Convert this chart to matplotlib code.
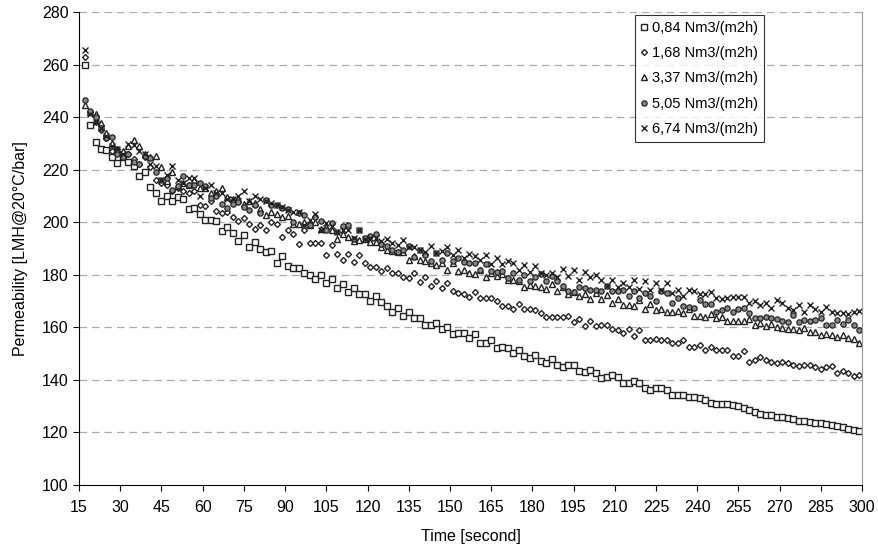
import numpy as np
import matplotlib
matplotlib.use("Agg")
import matplotlib.pyplot as plt

plt.rcParams['font.family'] = ['Liberation Sans', 'DejaVu Sans']

# time grid, one reading every 2 seconds
t = list(range(17, 300, 2))

flow_labels = ["0,84 Nm3/(m2h)", "1,68 Nm3/(m2h)", "3,37 Nm3/(m2h)",
               "5,05 Nm3/(m2h)", "6,74 Nm3/(m2h)"]

perm_084 = [260, 237, 230.5, 228, 227.5, 225, 222.5, 225, 223, 221.5,
            217.5, 219, 213.5, 211, 208, 210, 208, 209.5, 209, 205,
            205.5, 203, 201, 201, 200.5, 196.5, 198, 196, 193, 195,
            190.5, 192.5, 190, 188.5, 189, 184.5, 187, 183.5, 182.5, 182.5,
            180.5, 180, 178.5, 180, 177, 178.5, 175, 176.5, 173.5, 175,
            172.5, 172.5, 170, 172, 169.5, 168, 165.7, 167.2, 164.4, 166,
            163.7, 163.7, 160.9, 160.9, 161.5, 159.2, 160.2, 157.4, 157.8, 157.8,
            156.1, 157.3, 154.2, 154, 155, 152, 152.7, 152, 150.4, 151.4,
            149.1, 148.3, 149.5, 147.3, 146.3, 147.8, 145.7, 144.8, 145.7, 145.7,
            143.4, 143.1, 143.8, 142.5, 140.6, 141.2, 141.9, 141, 139, 139,
            139.6, 138.7, 137, 136.2, 136.8, 136.8, 136.2, 134.3, 134.3, 134.3,
            133.6, 133.6, 133.2, 132.4, 131.1, 130.8, 130.8, 130.8, 130.5, 130,
            129.3, 128.5, 127.8, 127.2, 126.8, 126.5, 126, 125.7, 125.5, 125,
            124.5, 124.2, 124, 123.7, 123.5, 123.2, 123, 122.5, 122, 121.5,
            121, 120.7]

perm_168 = [263, 242, 238, 235, 232, 227, 228, 226, 226, 224,
            222, 225, 221, 216, 215, 214, 212, 213, 212, 211,
            212, 206.6, 206, 208, 204.3, 203.4, 204, 202.1, 200.4, 201.5,
            199.3, 197.6, 199, 197.2, 200.1, 199.3, 194.5, 197.2, 195.4, 191.6,
            197, 192, 192.2, 192, 187.5, 191.4, 188, 185.7, 188, 184.7,
            187.6, 184.4, 182.9, 182.9, 181.5, 182.7, 180.8, 180.8, 179.3, 178.7,
            180.8, 177.4, 179.3, 175.9, 177.8, 174.9, 177, 173.9, 173.2, 172.7,
            171.7, 173.4, 171.1, 171.3, 171.3, 170.2, 168.1, 168.1, 167, 168.8,
            166.9, 166.9, 166.6, 165.3, 164.1, 164.1, 163.8, 163.8, 164.3, 162.2,
            163.2, 160.6, 162.4, 160.6, 160.9, 160.9, 159.3, 158.9, 157.7, 159.3,
            156.8, 158.9, 155.1, 155.3, 155.7, 155.1, 155.3, 154.1, 154.1, 155.1,
            152.5, 152.5, 153.2, 151.3, 152.5, 151.4, 151.4, 151.4, 149.1, 149.1,
            151, 147, 147.4, 148.6, 147.6, 147, 146.4, 147, 146.4, 145.8,
            145.1, 145.8, 145.8, 144.9, 144.1, 144.9, 145.1, 142.8, 143.2, 142.8,
            141.5, 141.9]

perm_337 = [244.5, 242, 241.2, 237.9, 234, 230, 228, 227, 229, 231.3,
            229, 226, 225, 225.2, 221, 215.6, 219, 213.6, 215, 214,
            216, 213, 213, 211, 212, 212.9, 209.7, 209, 208.7, 206.9,
            208, 207.4, 205.2, 202.7, 204, 203.3, 202, 202.3, 199.4, 199.2,
            200.1, 198.8, 200.1, 197.6, 198.2, 197, 193.7, 195.6, 194.3, 193,
            193.3, 193.7, 192.4, 192.4, 190.5, 189.5, 189.1, 188.7, 188.7, 185.8,
            187, 185.5, 185.2, 184.3, 183.6, 184.3, 182, 184.3, 181.5, 181.8,
            180.5, 180.3, 181.8, 179.2, 180.8, 179.5, 180.3, 178, 178.2, 177.7,
            175.4, 176.1, 175.7, 175.2, 174.4, 176.4, 173.9, 175.4, 172.8, 173.5,
            171.8, 172.6, 170.6, 172.9, 170.6, 172.2, 169.3, 170.9, 168.4, 168.4,
            168, 170.3, 167.1, 168.8, 166.5, 167.1, 165.8, 165.8, 166.2, 165.4,
            167.1, 164.2, 164.2, 163.9, 165.1, 163.5, 163.9, 162.6, 162.6, 162.6,
            162.6, 163, 161, 161.7, 160.5, 161.4, 160.1, 159.7, 159.2, 159.2,
            158.8, 159.8, 158.2, 158.2, 157.2, 157.6, 156.9, 156.3, 157.2, 155.9,
            155.7, 154.2]

perm_505 = [246.5, 242.5, 240, 236, 232, 232.5, 226, 225, 226, 223,
            222, 225.2, 224.3, 219, 216, 217, 212.3, 213.6, 217.7, 214.2,
            214, 215, 213.6, 209.1, 210, 207, 205.3, 207, 207.7, 205.7,
            204.8, 206.4, 203.5, 208.6, 206.7, 206.4, 205.6, 205.1, 200, 203.5,
            202.9, 199, 201.8, 200.6, 197.1, 199.6, 196.2, 198.4, 199, 193.7,
            197.1, 194, 194.6, 195.5, 191.7, 191, 189.6, 188.7, 189.4, 190.9,
            186.8, 189.4, 187.5, 185.3, 188.1, 185.8, 188.1, 185.3, 186.2, 184.9,
            184.3, 184.5, 182, 184, 181.5, 181.1, 181.5, 178.6, 180.5, 178.2,
            179.9, 177.7, 179, 180.3, 177.5, 179.4, 177.5, 175.9, 173.7, 173.3,
            175.4, 175, 174.3, 174.3, 173.7, 175.6, 173.7, 173.7, 174.3, 171.8,
            173.7, 171.1, 173, 171.8, 169.9, 173.7, 173, 169.3, 171.1, 168.2,
            167.7, 167.3, 170.4, 168.8, 168.9, 165.9, 166.5, 167.5, 165.9, 166.8,
            167.2, 165.6, 163.4, 163.4, 164, 163.4, 163, 162.5, 162.2, 164.7,
            162.2, 162.8, 162.5, 162.8, 163.4, 160.9, 160.9, 162.8, 161.3, 162.8,
            160.9, 159]

perm_674 = [265.5, 241, 238, 236, 233, 229, 228, 226, 229.8, 229.4,
            227, 226, 222, 221.5, 216, 218, 221.4, 216, 215, 217,
            217, 210, 213, 214, 211, 211, 209, 208.9, 210, 211.8,
            208, 210, 208.9, 208, 207.5, 206.7, 205.8, 204.5, 203.8, 203.8,
            199.1, 200.8, 203.3, 197.2, 199.7, 198.7, 196.2, 197, 197.2, 194,
            197.2, 193.7, 194, 194, 192.8, 193.5, 192.2, 191.3, 193.4, 190.6,
            190.6, 189.6, 188.7, 190.9, 188.1, 189.1, 190.6, 187.5, 189.4, 186.2,
            187.9, 187.1, 185.5, 187.5, 184, 186.2, 184, 185.3, 184.5, 182,
            183.6, 181.1, 183.2, 180.7, 180.1, 180.7, 179.2, 182.2, 179.4, 181.7,
            177.9, 181, 179.2, 180.1, 177.9, 175.9, 177.9, 175.4, 177, 175.4,
            177.9, 174.6, 177.5, 174.3, 177, 174.3, 177, 173.1, 174.3, 171.8,
            174.1, 173.7, 172.6, 172.5, 173.5, 171, 170.6, 171, 171.6, 171.4,
            171.6, 169.1, 170, 168.4, 169.3, 167.2, 170.3, 169.1, 167.2, 166.5,
            168.4, 165.9, 168.4, 166.8, 165.9, 167.8, 165.9, 165.3, 165.5, 165,
            165.9, 166.3]

x_ticks = list(range(15, 301, 15))
y_ticks = list(range(100, 281, 20))

fig = plt.figure(figsize=(8.79, 5.55), dpi=100)
ax = fig.add_axes([0.0899, 0.1261, 0.8908, 0.8523])

dark = '#222222'
ax.plot(t, perm_084, 's', ms=3.8, mfc='white', mec=dark, mew=1.0, label=flow_labels[0])
ax.plot(t, perm_168, 'D', ms=3.0, mfc='white', mec=dark, mew=1.0, label=flow_labels[1])
ax.plot(t, perm_337, '^', ms=4.0, mfc='white', mec=dark, mew=1.0, label=flow_labels[2])
ax.plot(t, perm_505, 'o', ms=3.8, mfc='#888888', mec=dark, mew=0.9, label=flow_labels[3])
ax.plot(t, perm_674, 'x', ms=4.2, mec=dark, mew=1.0, label=flow_labels[4])

ax.set_xlim(15, 300)
ax.set_ylim(100, 280)
ax.set_xticks(x_ticks)
ax.set_yticks(y_ticks)
ax.tick_params(direction='out', length=4, width=0.8, labelsize=11.5, colors='black')
ax.tick_params(axis='x', pad=7)

for y in y_ticks[1:]:
    ax.axhline(y, color='#aaaaaa', lw=0.9, ls=(0, (6, 4)), zorder=0)

ax.spines['top'].set_visible(False)
ax.spines['right'].set_color('#999999')
ax.spines['left'].set_color('black')
ax.spines['bottom'].set_color('black')

ax.set_xlabel('Time [second]', fontsize=11.5, labelpad=10)
ax.set_ylabel('Permeability [LMH@20°C/bar]', fontsize=11.5, labelpad=10)

leg = ax.legend(loc='upper right', bbox_to_anchor=(0.875, 0.994), fontsize=10.5,
                frameon=True, fancybox=False, handlelength=0.5, handletextpad=0.3,
                borderpad=0.4, labelspacing=0.78, borderaxespad=0.0)
leg.get_frame().set_edgecolor('black')
leg.get_frame().set_linewidth(0.8)

fig.savefig('out.png', dpi=100)
